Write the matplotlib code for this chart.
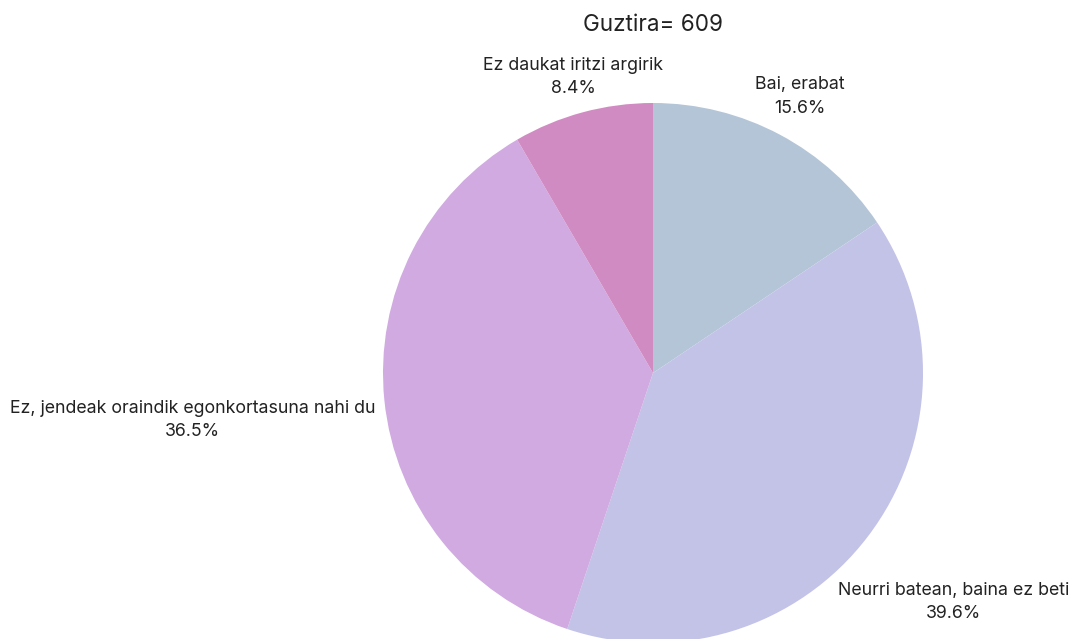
import numpy as np
import matplotlib as mpl
mpl.use('Agg')
import matplotlib.pyplot as plt

labels = ["Bai, erabat", "Neurri batean, baina ez beti",
          "Ez, jendeak oraindik egonkortasuna nahi du", "Ez daukat iritzi argirik"]
shares = [15.6, 39.6, 36.5, 8.4]
colors = ["#b4c5d8", "#c3c3e8", "#d0aae1", "#d18bc3"]
total = 609

# label distance from centre (in radii), tuned per slice
label_dist = [1.16, 1.40, 1.715, 1.135]

plt.rcParams['font.family'] = ['Inter', 'DejaVu Sans']

fig = plt.figure(figsize=(10.71, 6.39), dpi=100)
cx, cy, r = 653 / 1071, 1 - 373 / 639, 270
ax = fig.add_axes([cx - r / 1071, cy - r / 639, 2 * r / 1071, 2 * r / 639])

wedges, _ = ax.pie(shares, colors=colors, startangle=90, counterclock=False,
                   radius=1, wedgeprops={'linewidth': 0})
ax.set_xlim(-1, 1)
ax.set_ylim(-1, 1)
ax.set_aspect('equal')

for w, lab, sh, d in zip(wedges, labels, shares, label_dist):
    ang = np.deg2rad((w.theta1 + w.theta2) / 2)
    ax.text(d * np.cos(ang), d * np.sin(ang), f"{lab}\n{sh}%",
            ha='center', va='center', fontsize=12.8, color='#222222',
            linespacing=1.5, clip_on=False)

fig.text(cx, 1 - 25 / 639, f"Guztira= {total}", ha='center', va='center',
         fontsize=16.2, color='#222222')

fig.savefig("out.png", dpi=100)
